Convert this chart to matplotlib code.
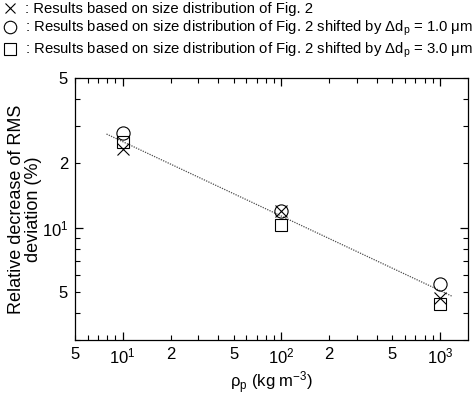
import numpy as np
import matplotlib
matplotlib.use("Agg")
import matplotlib.pyplot as plt
from matplotlib.lines import Line2D
from matplotlib.ticker import LogLocator, FuncFormatter

plt.rcParams['font.family'] = ['Liberation Sans', 'DejaVu Sans']
plt.rcParams['mathtext.default'] = 'regular'

# ---- data ----
rho = [10, 100, 1000]                 # particle density (kg m^-3)
dev_base = [23.4, 12.0, 4.7]          # x : size distribution of Fig. 2
dev_shift1 = [27.6, 12.0, 5.5]        # o : shifted by 1.0 um
dev_shift3 = [25.1, 10.3, 4.4]        # square : shifted by 3.0 um

fit_rho = [7.9, 1190]                 # dotted trend line
fit_dev = [27.4, 4.8]

labels = [
    ": Results based on size distribution of Fig. 2",
    ": Results based on size distribution of Fig. 2 shifted by $\\Delta d_p$ = 1.0 \u03bcm",
    ": Results based on size distribution of Fig. 2 shifted by $\\Delta d_p$ = 3.0 \u03bcm",
]

fig = plt.figure(figsize=(4.74, 3.97), dpi=100)
ax = fig.add_axes([0.1582, 0.1436, 0.8291, 0.6599])

ax.plot(fit_rho, fit_dev, linestyle=(0, (1, 1.0)), color='0.3', linewidth=0.9)

mk = dict(linestyle='none', markerfacecolor='none', markeredgecolor='black',
          color='black', markeredgewidth=0.8)
ax.plot(rho, dev_shift1, marker='o', markersize=9.5, **mk)
ax.plot(rho, dev_shift3, marker='s', markersize=9, **mk)
ax.plot(rho, dev_base, marker='x', markersize=8, **mk)

ax.set_xscale('log')
ax.set_yscale('log')
ax.set_xlim(5, 1500)
ax.set_ylim(3, 50)

def major_fmt(v, pos):
    return "10$^{%d}$" % int(round(np.log10(v)))

def minor_fmt(v, pos):
    d = v / 10 ** np.floor(np.log10(v) + 1e-9)
    d = int(round(d))
    return str(d) if d in (2, 5) else ""

for axis in (ax.xaxis, ax.yaxis):
    axis.set_major_locator(LogLocator(base=10))
    axis.set_minor_locator(LogLocator(base=10, subs=np.arange(2, 10)))
    axis.set_major_formatter(FuncFormatter(major_fmt))
    axis.set_minor_formatter(FuncFormatter(minor_fmt))

ax.tick_params(which='both', direction='in', top=True, right=True, labelsize=12, pad=5)
ax.tick_params(which='major', length=6, width=0.9)
ax.tick_params(which='minor', length=3.5, width=0.8)
for s in ax.spines.values():
    s.set_linewidth(0.9)

ax.set_xlabel("\u03c1$_p$ (kg m$^{-3}$)", fontsize=12, labelpad=2)
ax.set_ylabel("Relative decrease of RMS\ndeviation (%)", fontsize=13, labelpad=0,
              linespacing=1.0)

handles = [
    Line2D([], [], marker='x', markersize=7, **mk),
    Line2D([], [], marker='o', markersize=9, **mk),
    Line2D([], [], marker='s', markersize=9, **mk),
]
fig.legend(handles, labels, loc='upper left', bbox_to_anchor=(0.0, 1.0),
           bbox_transform=fig.transFigure, frameon=False, fontsize=10.7,
           handlelength=1.0, handletextpad=0.5, labelspacing=0.18,
           borderpad=0.15, borderaxespad=0)

fig.savefig("out.png", dpi=100)
